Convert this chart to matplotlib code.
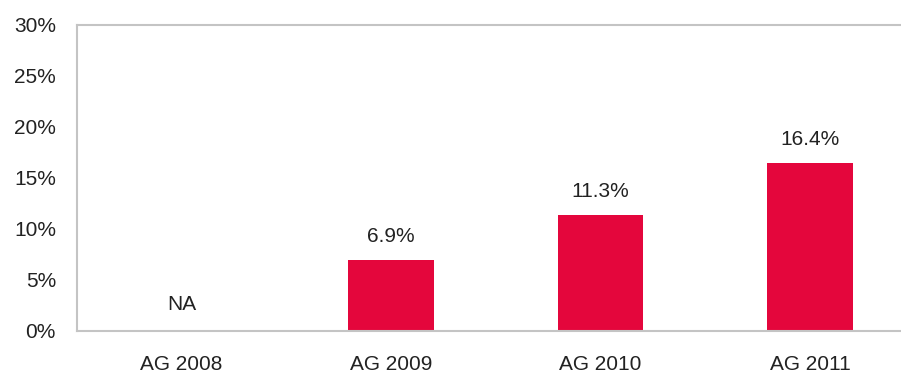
import matplotlib
matplotlib.use("Agg")
import matplotlib.pyplot as plt
import numpy as np

categories = ["AG 2008", "AG 2009", "AG 2010", "AG 2011"]
values = [None, 6.9, 11.3, 16.4]
y_ticks = [0, 5, 10, 15, 20, 25, 30]

bar_color = "#E4063C"
text_color = "#222222"
spine_color = "#C4C4C4"
font_size = 15

plt.rcParams["font.family"] = ["Liberation Sans", "DejaVu Sans"]

fig = plt.figure(figsize=(9.01, 3.76), dpi=100)
ax = fig.add_axes([76.75 / 901, 45.5 / 376, 838 / 901, 306 / 376])

x = np.arange(len(categories))
heights = [v if v is not None else 0 for v in values]
ax.bar(x, heights, width=0.41, color=bar_color, zorder=2)

for xi, v in zip(x, values):
    if v is None:
        ax.annotate("NA", (xi, 0), xytext=(0, 12), textcoords="offset points",
                    ha="center", va="bottom", fontsize=font_size, color=text_color)
    else:
        ax.annotate(f"{v:.1f}%", (xi, v), xytext=(0, 10), textcoords="offset points",
                    ha="center", va="bottom", fontsize=font_size, color=text_color)

ax.set_xlim(-0.5, len(categories) - 0.5)
ax.set_ylim(0, 30)
ax.set_xticks(x)
ax.set_xticklabels(categories)
ax.set_yticks(y_ticks)
ax.set_yticklabels([f"{t}%" for t in y_ticks])
ax.tick_params(axis="both", length=0, labelsize=font_size, colors=text_color)
ax.tick_params(axis="y", pad=15)
ax.tick_params(axis="x", pad=18)

for side in ["left", "top", "bottom"]:
    ax.spines[side].set_color(spine_color)
    ax.spines[side].set_linewidth(1.5)
ax.spines["right"].set_visible(False)

fig.savefig("out.png", dpi=100)
